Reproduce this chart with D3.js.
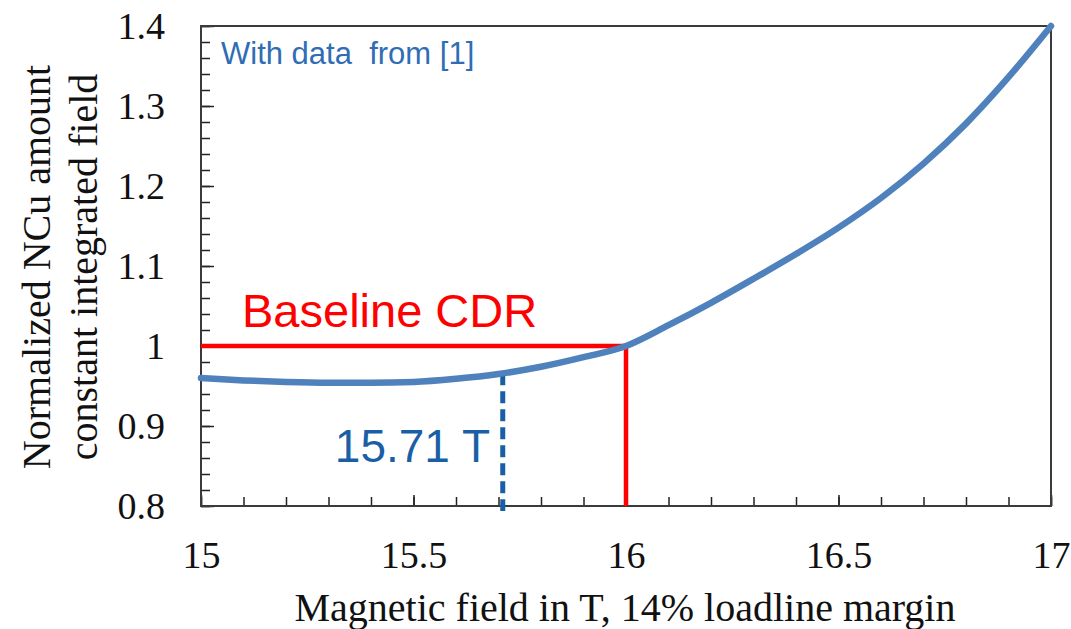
<!DOCTYPE html>
<html>
<head>
<meta charset="utf-8">
<script src="https://cdn.jsdelivr.net/npm/d3@7"></script>
<style>
  body { margin: 0; background: #fff; }
  svg { display: block; }
</style>
</head>
<body>
<div id="chart"></div>
<script>
// field values (T) and normalised NCu amount
var fieldT  = [15.0, 15.1, 15.2, 15.3, 15.4, 15.5, 15.6, 15.7, 15.8, 15.9, 16.0,
               16.1, 16.2, 16.3, 16.4, 16.5, 16.6, 16.7, 16.8, 16.9, 17.0];
var ncuNorm = [0.960, 0.957, 0.955, 0.954, 0.954, 0.955, 0.959, 0.965, 0.974, 0.986, 1.000,
               1.026, 1.054, 1.084, 1.115, 1.148, 1.185, 1.228, 1.278, 1.336, 1.400];

var xTicks = [15, 15.5, 16, 16.5, 17];
var yTicks = [0.8, 0.9, 1, 1.1, 1.2, 1.3, 1.4];

var baselineField = 16, baselineValue = 1;
var markerField = 15.71, markerValue = 0.966;

var width = 1071, height = 629;
var m = {left: 201, right: 1051, top: 26, bottom: 506};

var svg = d3.select("#chart").append("svg")
  .attr("width", width)
  .attr("height", height);

var x = d3.scaleLinear().domain([15, 17]).range([m.left, m.right]);
var y = d3.scaleLinear().domain([0.8, 1.4]).range([m.bottom, m.top]);

var serif = "'Liberation Serif', 'Times New Roman', serif";
var sans = "'Liberation Sans', Arial, sans-serif";

// minor ticks, pointing inside the frame
svg.append("g")
  .attr("transform", "translate(" + m.left + ",0)")
  .call(d3.axisLeft(y).tickValues(d3.range(0.8, 1.401, 0.02)).tickSize(-9).tickFormat(""))
  .call(g => g.select(".domain").remove());
svg.append("g")
  .attr("transform", "translate(0," + m.bottom + ")")
  .call(d3.axisBottom(x).tickValues(d3.range(15, 17.001, 0.1)).tickSize(-9).tickFormat(""))
  .call(g => g.select(".domain").remove());

// major ticks + labels
var yAxis = svg.append("g")
  .attr("transform", "translate(" + m.left + ",0)")
  .call(d3.axisLeft(y).tickValues(yTicks).tickSize(-13).tickPadding(36)
    .tickFormat(d => String(+d.toFixed(1))));
var xAxis = svg.append("g")
  .attr("transform", "translate(0," + m.bottom + ")")
  .call(d3.axisBottom(x).tickValues(xTicks).tickSize(-11).tickPadding(35)
    .tickFormat(d => String(d)));

[yAxis, xAxis].forEach(function(a) {
  a.select(".domain").remove();
  a.selectAll("text").attr("font-family", serif).attr("font-size", 38).attr("fill", "#111");
});
svg.selectAll(".tick line").attr("stroke", "#222").attr("stroke-width", 1.5);

// frame
svg.append("rect")
  .attr("x", m.left).attr("y", m.top)
  .attr("width", m.right - m.left).attr("height", m.bottom - m.top)
  .attr("fill", "none")
  .attr("stroke", "#3a3a3a")
  .attr("stroke-width", 2);

// baseline CDR lines
svg.append("path")
  .attr("d", "M" + x(15) + "," + y(baselineValue) + "H" + x(baselineField) + "V" + y(0.8))
  .attr("fill", "none")
  .attr("stroke", "#ff0000")
  .attr("stroke-width", 4.5);

// 15.71 T marker
svg.append("line")
  .attr("x1", x(markerField)).attr("x2", x(markerField))
  .attr("y1", y(markerValue)).attr("y2", y(0.8) + 5)
  .attr("stroke", "#1a5fa6")
  .attr("stroke-width", 5)
  .attr("stroke-dasharray", "12,6");

// curve
var line = d3.line()
  .x((d, i) => x(fieldT[i]))
  .y(d => y(d))
  .curve(d3.curveMonotoneX);

svg.append("path")
  .datum(ncuNorm)
  .attr("d", line)
  .attr("fill", "none")
  .attr("stroke", "#4f81bd")
  .attr("stroke-width", 6.5)
  .attr("stroke-linecap", "round");

// annotations
svg.append("text")
  .attr("x", 221).attr("y", 64)
  .attr("font-family", sans).attr("font-size", 31)
  .attr("fill", "#2f6db5")
  .text("With data \u00a0from [1]");

svg.append("text")
  .attr("x", 242).attr("y", 327)
  .attr("font-family", sans).attr("font-size", 47)
  .attr("fill", "#ff0000")
  .text("Baseline CDR");

svg.append("text")
  .attr("x", 490).attr("y", 462)
  .attr("text-anchor", "end")
  .attr("font-family", sans).attr("font-size", 46)
  .attr("fill", "#1a5fa6")
  .text("15.71 T");

// axis titles
svg.append("text")
  .attr("x", 625).attr("y", 621)
  .attr("text-anchor", "middle")
  .attr("font-family", serif).attr("font-size", 40)
  .attr("fill", "#111")
  .text("Magnetic  field in T, 14% loadline margin");

var yTitle = svg.append("text")
  .attr("transform", "translate(0,267) rotate(-90)")
  .attr("text-anchor", "middle")
  .attr("font-family", serif).attr("font-size", 40)
  .attr("fill", "#111");
yTitle.append("tspan").attr("x", 0).attr("y", 50).text("Normalized NCu amount");
yTitle.append("tspan").attr("x", 0).attr("y", 97).text("constant integrated field");
</script>
</body>
</html>
